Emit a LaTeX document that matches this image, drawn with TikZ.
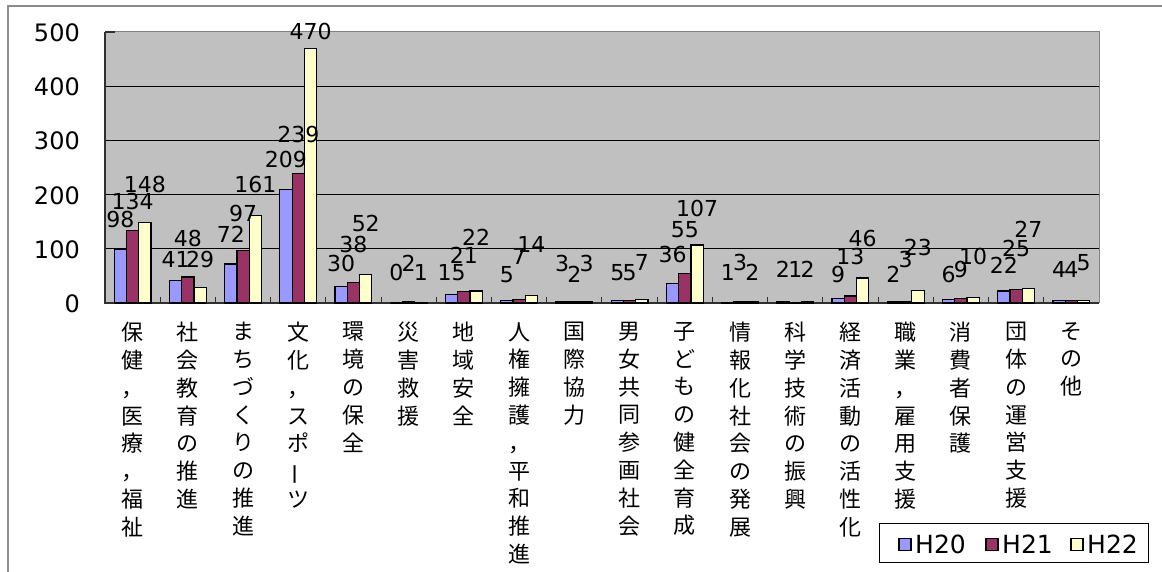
\documentclass[tikz,border=0pt]{standalone}
\usepackage{fontspec}
\usepackage{graphicx}
\setmainfont{DejaVu Sans}
\newfontfamily\jp{Noto Sans CJK JP}
\definecolor{sA}{HTML}{9999FF}
\definecolor{sB}{HTML}{993366}
\definecolor{sC}{HTML}{FFFFCC}
\definecolor{plotbg}{HTML}{C0C0C0}
\definecolor{framecol}{HTML}{8C8C8C}
\definecolor{axiscol}{HTML}{303030}
\tikzset{
  barbox/.style={draw=black, line width=1.2pt},
  dlab/.style={inner sep=0pt, anchor=base, font=\fontsize{22}{24}\selectfont},
  ticklab/.style={inner sep=0pt, anchor=base east, font=\fontsize{24}{26}\selectfont},
  catlab/.style={inner sep=0pt, anchor=north, align=center, font=\jp\fontsize{22}{27.8}\selectfont},
  legtext/.style={inner sep=0pt, anchor=base west, font=\fontsize{25}{27}\selectfont},
  legmark/.style={draw=black, line width=1.2pt, minimum width=12pt, minimum height=12pt, inner sep=0pt},
}
\begin{document}
\begin{tikzpicture}[x=1pt,y=-1pt]
\useasboundingbox (0,0) rectangle (1162,572);
\fill[white] (0,0) rectangle (1162,572);
\draw[framecol, line width=2pt] (8,572) -- (8,6) -- (1162,6);
% plot area
\fill[plotbg] (105,32) rectangle (1099,303);
\draw[gray, line width=1pt] (105,32) -- (1099,32) -- (1099,303);
\foreach \v in {100,200,300,400}
  \draw[black, line width=0.9pt] (105,{303-0.542*\v}) -- (1099,{303-0.542*\v});
\draw[axiscol, line width=1.2pt] (105,32) -- (105,303) -- (1099,303);
\draw[axiscol, line width=1.2pt] (105,32) -- (115,32);
\foreach \i in {1,...,17}
  \draw[axiscol, line width=1pt] ({105+\i*55.22},303) -- ({105+\i*55.22},297);
% y tick labels
\foreach \v in {0,100,200,300,400,500}
  \node[ticklab] (t\v) at (80,{303-0.542*\v+9.5}) {\v};
% bars and labels
\foreach \i/\a/\b/\c/\la/\lb/\lc in {
  0/98/134/148/228/210/193,
  1/41/48/29/267/247/267,
  2/72/97/161/243/222/193,
  3/209/239/470/168/143/40,
  4/30/38/52/272/253/232,
  5/0/2/1/280/272/280,
  6/15/21/22/280/263/245,
  7/5/7/14/283/265/252,
  8/3/2/3/272/283/272,
  9/5/5/7/280/280/270,
  10/36/55/107/262/238/217,
  11/1/3/2/280/270/280,
  12/2/1/2/277/277/277,
  13/9/13/46/282/265/247,
  14/2/3/23/282/268/255,
  15/6/9/10/283/277/265,
  16/22/25/27/273/257/238,
  17/4/4/5/277/277/270}{
  \pgfmathsetmacro\st{105+\i*55.22+9.2}
  \draw[barbox, fill=sA] (\st,303) rectangle ({\st+12.27},{303-0.542*\a});
  \draw[barbox, fill=sB] ({\st+12.27},303) rectangle ({\st+24.54},{303-0.542*\b});
  \draw[barbox, fill=sC] ({\st+24.54},303) rectangle ({\st+36.81},{303-0.542*\c});
  \node[dlab] (la\i) at ({\st+6.13},\la) {\a};
  \node[dlab] (lb\i) at ({\st+18.4},\lb) {\b};
  \node[dlab] (lc\i) at ({\st+30.67},\lc) {\c};
}
% category labels
\foreach \i/\t in {
  0/{保\\健\\，\\医\\療\\，\\福\\祉},
  1/{社\\会\\教\\育\\の\\推\\進},
  2/{ま\\ち\\づ\\く\\り\\の\\推\\進},
  3/{文\\化\\，\\ス\\ポ\\\rotatebox[origin=c]{90}{ー}\\ツ},
  4/{環\\境\\の\\保\\全},
  5/{災\\害\\救\\援},
  6/{地\\域\\安\\全},
  7/{人\\権\\擁\\護\\，\\平\\和\\推\\進},
  8/{国\\際\\協\\力},
  9/{男\\女\\共\\同\\参\\画\\社\\会},
  10/{子\\ど\\も\\の\\健\\全\\育\\成},
  11/{情\\報\\化\\社\\会\\の\\発\\展},
  12/{科\\学\\技\\術\\の\\振\\興},
  13/{経\\済\\活\\動\\の\\活\\性\\化},
  14/{職\\業\\，\\雇\\用\\支\\援},
  15/{消\\費\\者\\保\\護},
  16/{団\\体\\の\\運\\営\\支\\援},
  17/{そ\\の\\他}}{
  \node[catlab] (c\i) at ({105+(\i+0.5)*55.22},322) {\t};
}
% legend
\node[draw=black, line width=1pt, fill=white, minimum width=269pt, minimum height=39pt, inner sep=0pt] (leg) at (1013.5,542.5) {};
\node[legmark, fill=sA] (m1) at (905,544.5) {};
\node[legtext] (h1) at (915,553) {H20};
\node[legmark, fill=sB] (m2) at (992,544.5) {};
\node[legtext] (h2) at (1002,553) {H21};
\node[legmark, fill=sC] (m3) at (1077,544.5) {};
\node[legtext] (h3) at (1087,553) {H22};
\end{tikzpicture}
\end{document}
